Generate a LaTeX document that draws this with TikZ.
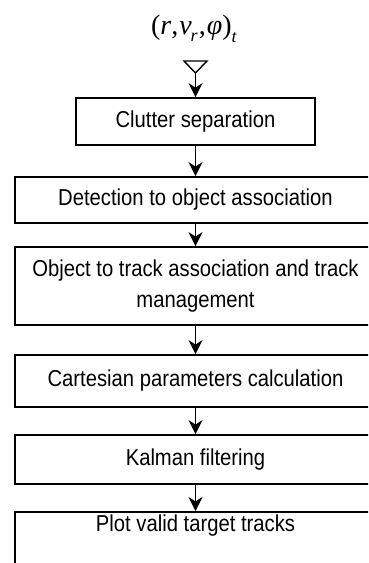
\documentclass[tikz,border=0pt]{standalone}
\usepackage{fontspec}
\setmainfont[FakeStretch=0.88]{Liberation Sans}
\newfontfamily\tnr{Liberation Serif}
\usetikzlibrary{arrows.meta}
\begin{document}
\begin{tikzpicture}[x=1pt,y=-1pt,
  box/.style={draw, line width=1.8pt, rectangle, inner sep=0pt, align=center,
    font=\fontsize{23}{31}\selectfont},
  wide/.style={box, minimum width=361pt},
  arr/.style={line width=1.8pt, -{Stealth[length=14pt,width=14pt,inset=4.5pt]}}]
\useasboundingbox (0,0) rectangle (368,563);
\clip (0,0) rectangle (368,563);
\node[anchor=base, inner sep=0pt] (formula) at (194,34)
  {\tnr\fontsize{28}{32}\selectfont (\textit{r},\kern1pt\textit{v}\kern-1pt\raisebox{-7pt}{\fontsize{18}{18}\selectfont\textit{r}}\kern1pt,\kern1pt\textit{φ})\raisebox{-8pt}{\fontsize{18}{18}\selectfont\textit{t}}};
\coordinate (apex) at (195.5,73);
\draw[line width=1.4pt, line join=miter] (184,61) -- (207,61) -- (apex) -- cycle;
\node[box, minimum width=239pt, minimum height=47pt] (clutter) at (195.5,121.5) {Clutter separation};
\node[wide, minimum height=46pt] (detect) at (195.5,200) {Detection to object association};
\node[wide, minimum height=78pt] (object) at (195.5,286) {Object to track association and track\\management};
\node[wide, minimum height=52pt] (cart) at (195.5,381) {Cartesian parameters calculation};
\node[wide, minimum height=49pt] (kalman) at (195.5,459.5) {Kalman filtering};
\node[wide, minimum height=80pt, anchor=north] (plot) at (195.5,511) {};
\node[font=\fontsize{23}{26}\selectfont, inner sep=0pt] (plottxt) at (195.5,526) {Plot valid target tracks};
\draw[arr] (apex) -- (clutter.north);
\draw[arr] (clutter.south) -- (detect.north);
\draw[arr] (detect.south) -- (object.north);
\draw[arr] (object.south) -- (cart.north);
\draw[arr] (cart.south) -- (kalman.north);
\draw[arr] (kalman.south) -- (plot.north);
\end{tikzpicture}
\end{document}
